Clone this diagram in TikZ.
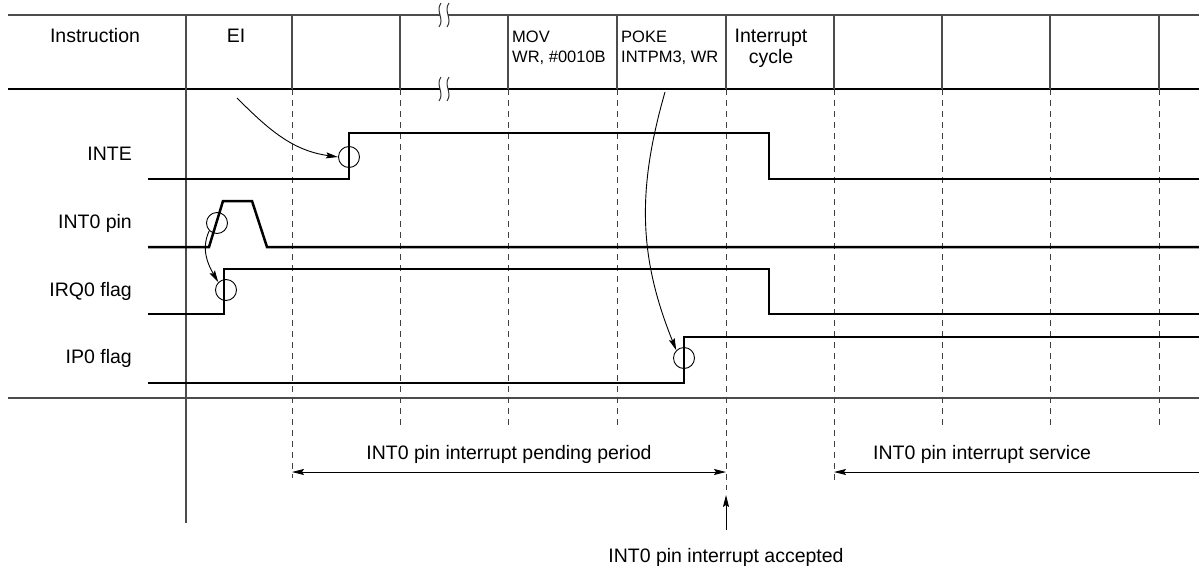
\documentclass[tikz,border=0pt]{standalone}
\usepackage{fontspec}
\setmainfont{Liberation Sans}
\usetikzlibrary{arrows.meta}
\begin{document}
\begin{tikzpicture}[x=1pt,y=-1pt,
  grid/.style={line width=1.1pt, black!70},
  vdash/.style={line width=1pt, black!75, dash pattern=on 6pt off 5pt},
  sig/.style={line width=2.5pt, line join=miter},
  circ/.style={circle, draw, line width=0.9pt, minimum size=21pt, inner sep=0pt},
  big/.style={font=\fontsize{19.5}{21}\selectfont},
  small/.style={font=\fontsize{16.5}{20}\selectfont},
  lbl/.style={big, anchor=base east, inner sep=0pt},
  tip/.style={line width=0.9pt, -{Stealth[length=12pt,width=6pt,inset=2pt]}},
  tips/.style={line width=0.9pt, {Stealth[length=12pt,width=6pt,inset=2pt]}-{Stealth[length=12pt,width=6pt,inset=2pt]}},
  brk/.style={line width=1pt, black!80},
]
\useasboundingbox (0,0) rectangle (1199,565);

% header grid
\draw[grid] (8,15) -- (1199,15);
\draw[line width=1.1pt] (8,89) -- (1199,89);
\draw[grid] (186,15) -- (186,523);
\foreach \x in {292,400,508,617,726,834,942,1050,1159}
  \draw[grid] (\x,15) -- (\x,89);
\draw[grid] (8,398) -- (1199,398);

% break marks
\foreach \y in {15,89} {
  \fill[white] (440,\y-3) rectangle (448,\y+3);
  \draw[brk] (441,\y-12) .. controls (435,\y-4) and (445,\y+4) .. (439,\y+12);
  \draw[brk] (449,\y-12) .. controls (443,\y-4) and (453,\y+4) .. (447,\y+12);
}

% dashed time lines
\foreach \x in {400,508,617,942,1050,1159}
  \draw[vdash] (\x,89) -- (\x,426);
\draw[vdash] (292,89) -- (292,478);
\draw[vdash] (726,89) -- (726,490);
\draw[vdash] (834,89) -- (834,482);

% header texts
\node[big] (hInstr) at (95,36) {Instruction};
\node[big] (hEI) at (236,36) {EI};
\node[small, align=left, anchor=west, inner sep=0pt] (hMov) at (512,48) {MOV\\WR, \#0010B};
\node[small, align=left, anchor=west, inner sep=0pt] (hPoke) at (621,48) {POKE\\INTPM3, WR};
\node[big, align=center, inner sep=0pt] (hInt) at (771,48) {Interrupt\\cycle};

% signal labels
\node[lbl] (lINTE) at (132,160) {INTE};
\node[lbl] (lINT0) at (132,228) {INT0 pin};
\node[lbl] (lIRQ0) at (132,296) {IRQ0 flag};
\node[lbl] (lIP0) at (132,363) {IP0 flag};

% waveforms
\draw[sig] (148,179) -- (349,179) -- (349,133) -- (769,133) -- (769,179) -- (1199,179);
\draw[sig] (148,247) -- (209,247) -- (223,201) -- (252,201) -- (267,247) -- (1199,247);
\draw[sig] (148,314) -- (224,314) -- (224,269) -- (769,269) -- (769,314) -- (1199,314);
\draw[sig] (148,383) -- (684,383) -- (684,337) -- (1199,337);

% circles
\node[circ] (c1) at (349,157) {};
\node[circ] (c2) at (217,223) {};
\node[circ] (c3) at (226,290) {};
\node[circ] (c4) at (684,358) {};

% curved pointers
\coordinate (eiS) at (237,98);
\coordinate (pokeS) at (665,92);
\draw[tip] (eiS) to[out=-45,in=172] (c1.west);
\draw[tip] (c2.south west) to[out=245,in=120] (c3.north west);
\draw[tip] (pokeS) to[out=-106,in=112] (c4.north west);

% bottom annotations
\node[big, anchor=base] (tPend) at (509,459) {INT0 pin interrupt pending period};
\coordinate (pL) at (292,472);
\coordinate (pR) at (726,472);
\draw[tips] (pL) -- (pR);
\node[big, anchor=base] (tServ) at (982,459) {INT0 pin interrupt service};
\coordinate (sR) at (1199,472);
\coordinate (sL) at (834,472);
\draw[tip] (sR) -- (sL);
\node[big, anchor=base] (tAcc) at (726,562) {INT0 pin interrupt accepted};
\coordinate (aB) at (726,530);
\coordinate (aT) at (726,495);
\draw[tip] (aB) -- (aT);
\end{tikzpicture}
\end{document}
